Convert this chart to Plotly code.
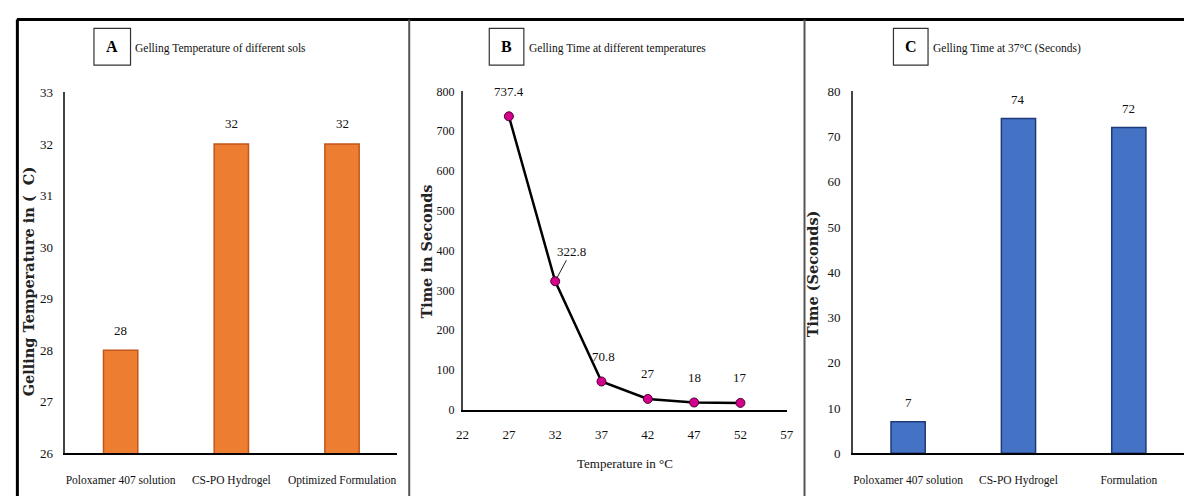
import plotly.graph_objects as go

W, H = 1191, 504

# ---------------- data ----------------
sols = ["Poloxamer 407 solution", "CS-PO Hydrogel", "Optimized Formulation"]
gel_temp = [28, 32, 32]

temps = [27, 32, 37, 42, 47, 52]
gel_time = [737.4, 322.8, 70.8, 27, 18, 17]
gel_time_labels = ["737.4", "322.8", "70.8", "27", "18", "17"]

formulations = ["Poloxamer 407 solution", "CS-PO Hydrogel", "Formulation"]
gel_time_37 = [7, 74, 72]

panel_letters = ["A", "B", "C"]
panel_titles = ["Gelling Temperature of different sols",
                "Gelling Time at different temperatures",
                "Gelling Time at 37°C (Seconds)"]
y_titles = ["Gelling Temperature in (\u00a0\u00a0C)", "Time in Seconds", "Time (Seconds)"]
x_title_b = "Temperature in °C"

# ---------------- helpers ----------------
def px(x):
    return x / W

def py(y):
    return 1 - y / H

SERIF = "Liberation Serif, Times New Roman, serif"
BOLDY = "DejaVu Serif, serif"

fig = go.Figure()

fig.add_trace(go.Bar(
    x=sols, y=gel_temp, width=0.31, xaxis="x", yaxis="y",
    marker=dict(color="#ED7D31", line=dict(color="#C0561A", width=1.5)),
    showlegend=False, hoverinfo="x+y"))

fig.add_trace(go.Scatter(
    x=temps, y=gel_time, mode="lines+markers", xaxis="x2", yaxis="y2",
    line=dict(color="black", width=2.5),
    marker=dict(color="#D4008C", size=9, line=dict(color="#4a0030", width=1)),
    showlegend=False))

fig.add_trace(go.Bar(
    x=formulations, y=gel_time_37, width=0.31, xaxis="x3", yaxis="y3",
    marker=dict(color="#4472C4", line=dict(color="#1F3A78", width=1.5)),
    showlegend=False, hoverinfo="x+y"))

tickfont = dict(family=SERIF, size=13, color="#111")
tickfont_b = dict(family=SERIF, size=12, color="#111")
catfont = dict(family=SERIF, size=11.5, color="#111")

def yax(domain, rng, dtick, standoff, font=tickfont):
    return dict(domain=domain, range=rng, dtick=dtick, showgrid=False,
                zeroline=False, showline=True, linecolor="#444", linewidth=1.5,
                ticks="", tickfont=font, ticklabelstandoff=standoff,
                fixedrange=True)

fig.update_layout(
    width=W, height=H, margin=dict(l=0, r=0, t=0, b=0),
    paper_bgcolor="white", plot_bgcolor="white",
    xaxis=dict(domain=[px(59), px(395)], range=[-0.5, 2.5], showgrid=False,
               showline=True, linecolor="black", linewidth=2, ticks="",
               tickfont=catfont, ticklabelstandoff=15, anchor="y"),
    yaxis=dict(**yax([py(460), py(88)], [26, 33], 1, 8), anchor="x"),
    xaxis2=dict(domain=[px(461), px(789)], range=[22, 57], tick0=22, dtick=5,
                showgrid=False, zeroline=False, showline=True, linecolor="black",
                linewidth=2, ticks="", tickfont=tickfont, ticklabelstandoff=12,
                anchor="y2"),
    yaxis2=dict(**yax([py(415), py(87)], [0, 800], 100, 4, tickfont_b), anchor="x2"),
    xaxis3=dict(domain=[px(856), 1.0], range=[-0.5, 2.5],
                showgrid=False, showline=True, linecolor="black", linewidth=2,
                ticks="", tickfont=catfont, ticklabelstandoff=15, anchor="y3"),
    yaxis3=dict(**yax([py(460), py(87)], [0, 80], 10, 8), anchor="x3"),
)

annotations = []
for c, v in zip(sols, gel_temp):
    annotations.append(dict(x=c, y=v, xref="x", yref="y", text=str(v),
                            showarrow=False, yshift=20,
                            font=dict(family=SERIF, size=13, color="#111")))
for t, v, lab in zip(temps, gel_time, gel_time_labels):
    if lab == "322.8":
        annotations.append(dict(x=t, y=v, xref="x2", yref="y2", text=lab,
                                showarrow=True, arrowhead=0, arrowwidth=1,
                                arrowcolor="#222", ax=16, ay=-30,
                                standoff=4,
                                font=dict(family=SERIF, size=13, color="#111")))
    else:
        annotations.append(dict(x=t, y=v, xref="x2", yref="y2", text=lab,
                                showarrow=False, yshift=25,
                                xshift=2 if lab == "70.8" else 0,
                                font=dict(family=SERIF, size=13, color="#111")))
for c, v in zip(formulations, gel_time_37):
    annotations.append(dict(x=c, y=v, xref="x3", yref="y3", text=str(v),
                            showarrow=False, yshift=19,
                            font=dict(family=SERIF, size=13, color="#111")))

# axis titles
ytitle_pos = [(22, 283), (424, 252), (815, 275)]
for (tx, ty), txt in zip(ytitle_pos, y_titles):
    annotations.append(dict(x=px(tx), y=py(ty), xref="paper", yref="paper",
                            text="<b>%s</b>" % txt, showarrow=False, textangle=-90,
                            xanchor="center", yanchor="middle",
                            font=dict(family=BOLDY, size=14.5, color="#222")))
annotations.append(dict(x=px(625), y=py(471), xref="paper", yref="paper",
                        text=x_title_b, showarrow=False,
                        xanchor="center", yanchor="middle",
                        font=dict(family=SERIF, size=13, color="#111")))

shapes = []
shapes.append(dict(type="line", xref="paper", yref="paper",
                   x0=px(10), x1=1.0, y0=py(13), y1=py(13),
                   line=dict(color="black", width=3)))
shapes.append(dict(type="line", xref="paper", yref="paper",
                   x0=px(10.5), x1=px(10.5), y0=py(13), y1=0,
                   line=dict(color="black", width=3)))
for sx in (407, 807):
    shapes.append(dict(type="line", xref="paper", yref="paper",
                       x0=px(sx), x1=px(sx), y0=py(13), y1=0,
                       line=dict(color="#555", width=2)))

box_x = [(88, 125), (488, 523), (897, 932)]
for (x0, x1), letter, title in zip(box_x, panel_letters, panel_titles):
    shapes.append(dict(type="rect", xref="paper", yref="paper",
                       x0=px(x0), x1=px(x1), y0=py(60), y1=py(22),
                       line=dict(color="#333", width=1.2)))
    annotations.append(dict(x=px((x0 + x1) / 2), y=py(41), xref="paper", yref="paper",
                            text="<b>%s</b>" % letter, showarrow=False,
                            xanchor="center", yanchor="middle",
                            font=dict(family=SERIF, size=16, color="black")))
    annotations.append(dict(x=px(x1 + 3), y=py(43), xref="paper", yref="paper",
                            text=title, showarrow=False, xanchor="left",
                            yanchor="middle",
                            font=dict(family=SERIF, size=11.5, color="#111")))

fig.update_layout(annotations=annotations, shapes=shapes)

post = """
var s = document.createElement('style');
s.innerHTML = 'html,body{margin:0!important;padding:0!important;overflow:hidden!important;}';
document.head.appendChild(s);
var gd = document.getElementById('{plot_id}');
gd.style.position = 'fixed';
gd.style.left = '0px';
gd.style.top = '0px';
"""

fig.write_html("out.html", config={"displayModeBar": False}, post_script=post)
